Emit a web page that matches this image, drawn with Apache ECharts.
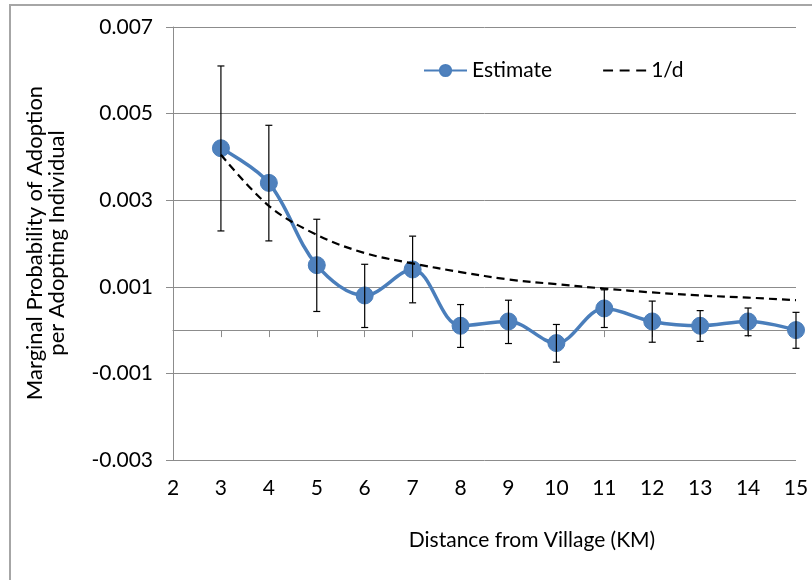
<!DOCTYPE html>
<html>
<head>
<meta charset="utf-8">
<script src="https://cdn.jsdelivr.net/npm/echarts@6/dist/echarts.min.js"></script>
<style>
  html, body { margin: 0; padding: 0; background: #ffffff; }
  #chart { width: 812px; height: 580px; }
</style>
</head>
<body>
<div id="chart"></div>
<script>
// Distance from village (KM)
const distances = [3, 4, 5, 6, 7, 8, 9, 10, 11, 12, 13, 14, 15];
// Estimate series
const estimate = [0.0042, 0.0034, 0.0015, 0.0008, 0.0014, 0.0001, 0.0002, -0.0003, 0.0005, 0.0002, 0.0001, 0.0002, 0.0000];
// Error bar upper / lower ends
const errorHigh = [0.0061, 0.00473, 0.00256, 0.00152, 0.00217, 0.00059, 0.00069, 0.00013, 0.00093, 0.00067, 0.00045, 0.00051, 0.00041];
const errorLow = [0.00229, 0.00206, 0.00043, 0.00006, 0.00063, -0.0004, -0.00031, -0.00074, 0.00006, -0.00028, -0.00026, -0.00013, -0.00042];
// 1/d reference curve
const inverseD = [0.00405, 0.00287, 0.0022, 0.00178, 0.00154, 0.00134, 0.00117, 0.00106, 0.00096, 0.00087, 0.0008, 0.00075, 0.00069];
// Axis tick labels
const xTickLabels = ['2', '3', '4', '5', '6', '7', '8', '9', '10', '11', '12', '13', '14', '15'];
const yTickLabels = ['-0.003', '-0.001', '0.001', '0.003', '0.005', '0.007'];

const FONT = 'Lato';
const FS = 21;
const estData = distances.map((d, i) => [d, estimate[i]]);
const invData = distances.map((d, i) => [d, inverseD[i]]);
const errData = distances.map((d, i) => [d, errorLow[i], errorHigh[i]]);

const chart = echarts.init(document.getElementById('chart'), null, { renderer: 'canvas' });
chart.setOption({
  backgroundColor: '#ffffff',
  animation: false,
  textStyle: { fontFamily: FONT },
  graphic: [
    {
      type: 'rect',
      shape: { x: 10, y: 5, width: 900, height: 700 },
      style: { fill: 'none', stroke: '#a6a6a6', lineWidth: 2 },
      silent: true, z: -10
    },
    {
      type: 'text',
      x: 532, y: 540,
      style: {
        text: 'Distance from Village (KM)',
        fontFamily: FONT, fontSize: FS, fill: '#000',
        align: 'center', verticalAlign: 'middle'
      }
    },
    {
      type: 'text',
      x: 46, y: 243,
      rotation: Math.PI / 2,
      style: {
        text: 'Marginal Probability of Adoption\nper Adopting Individual',
        fontFamily: FONT, fontSize: 22, fill: '#000', lineHeight: 22,
        align: 'center', verticalAlign: 'middle'
      }
    }
  ],
  grid: { left: 173, right: 16, top: 27, bottom: 120, containLabel: false, outerBoundsMode: 'none' },
  legend: {
    left: 423, top: 60, padding: 0,
    itemWidth: 43, itemHeight: 14, itemGap: 51,
    textStyle: { fontFamily: FONT, fontSize: FS, color: '#000' },
    data: [
      { name: 'Estimate' },
      { name: '1/d', icon: 'path://M0 0H9V2H0Z M15 0H24V2H15Z M30 0H39V2H30Z' }
    ]
  },
  xAxis: [
    {
      type: 'value', min: 2, max: 15, interval: 1,
      axisLine: { show: false, onZero: false },
      axisTick: { show: false },
      splitLine: { show: false },
      axisLabel: {
        margin: 18, fontFamily: FONT, fontSize: FS, color: '#000',
        formatter: v => xTickLabels[Math.round(v) - 2]
      }
    },
    {
      type: 'value', min: 2, max: 15, interval: 1, position: 'bottom',
      axisLine: { show: true, onZero: true, lineStyle: { color: '#8c8c8c', width: 1 } },
      axisTick: { show: true, inside: false, length: 7, lineStyle: { color: '#8c8c8c' } },
      splitLine: { show: false },
      axisLabel: { show: false }
    }
  ],
  yAxis: {
    type: 'value', min: -0.003, max: 0.007, interval: 0.002,
    axisLine: { show: true, lineStyle: { color: '#8c8c8c', width: 1 } },
    axisTick: { show: true, length: 7, lineStyle: { color: '#8c8c8c' } },
    splitLine: { show: true, lineStyle: { color: '#8c8c8c', width: 1 } },
    axisLabel: {
      margin: 20, fontFamily: FONT, fontSize: FS, color: '#000',
      formatter: v => {
        const idx = Math.round((v + 0.003) / 0.002);
        return yTickLabels[idx];
      }
    }
  },
  series: [
    {
      name: 'Estimate', type: 'line', data: estData, xAxisIndex: 0,
      smooth: 0.35,
      symbol: 'circle', symbolSize: 17,
      lineStyle: { color: '#4a7ebb', width: 3.5 },
      itemStyle: { color: '#4f81bd', borderColor: '#4a7ebb', borderWidth: 1 },
      z: 2
    },
    {
      name: 'errors', type: 'custom', data: errData, xAxisIndex: 0,
      renderItem: (params, api) => {
        const x = api.value(0);
        const lo = api.coord([x, api.value(1)]);
        const hi = api.coord([x, api.value(2)]);
        const cap = 3.5;
        const st = { stroke: '#000', lineWidth: 1.2 };
        return {
          type: 'group',
          children: [
            { type: 'line', shape: { x1: lo[0], y1: lo[1], x2: hi[0], y2: hi[1] }, style: st },
            { type: 'line', shape: { x1: lo[0] - cap, y1: lo[1], x2: lo[0] + cap, y2: lo[1] }, style: st },
            { type: 'line', shape: { x1: hi[0] - cap, y1: hi[1], x2: hi[0] + cap, y2: hi[1] }, style: st }
          ]
        };
      },
      z: 3, silent: true
    },
    {
      name: '1/d', type: 'line', data: invData, xAxisIndex: 0,
      smooth: 0.35, symbol: 'none',
      lineStyle: { color: '#000', width: 2.2, type: [8, 5] },
      itemStyle: { color: '#000' },
      z: 4
    }
  ]
});
</script>
</body>
</html>
